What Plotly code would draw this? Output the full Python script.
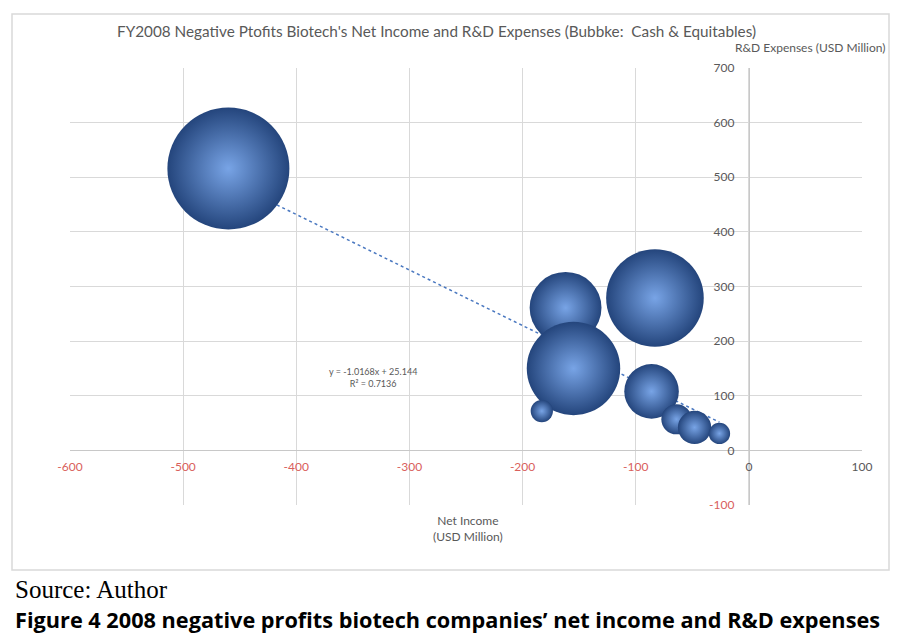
import plotly.graph_objects as go

# Data
net_income = [-460, -162, -83, -155, -86, -183, -64, -48, -26]      # USD million
rd_expenses = [516, 261, 279, 150, 108, 72, 57, 42, 31]             # USD million
cash = [1500, 520, 960, 880, 300, 50, 92, 112, 46]                  # bubble size (cash & equivalents)

trend_slope = -1.0168
trend_intercept = 25.144
trend_r2 = 0.7136

x_ticks = [-600, -500, -400, -300, -200, -100, 0, 100]
y_ticks = [-100, 0, 100, 200, 300, 400, 500, 600, 700]

RED = "#d9605c"
GRAY = "#595959"


def tick_text(v):
    c = RED if v < 0 else GRAY
    return f'<span style="color:{c}">{v}</span>'


fig = go.Figure()

# trendline
x0, x1 = min(net_income), max(net_income)
fig.add_trace(go.Scatter(
    x=[x0, x1],
    y=[trend_slope * x0 + trend_intercept, trend_slope * x1 + trend_intercept],
    mode="lines",
    line=dict(color="#4a78c0", width=1.5, dash="dot"),
    hoverinfo="skip", showlegend=False,
))

max_d = 122
fig.add_trace(go.Scatter(
    x=net_income, y=rd_expenses, mode="markers",
    marker=dict(
        size=cash, sizemode="area", sizeref=2.0 * max(cash) / (max_d ** 2),
        color="#24457c",
        gradient=dict(type="radial", color="#78a4e6"),
        line=dict(width=0), opacity=1,
    ),
    showlegend=False,
))

fig.add_annotation(
    x=-332, y=134, xref="x", yref="y",
    text=f"y = {trend_slope}x + {trend_intercept}<br>R² = {trend_r2}",
    showarrow=False, font=dict(size=9, color=GRAY, family="Lato"), align="center",
)

PW, PH = 792, 437  # plot area size in px
L, T = 62, 60      # plot area offset in figure px

# titles
fig.add_annotation(
    x=0.463, y=1.085, xref="paper", yref="paper",
    text="FY2008 Negative Ptofits Biotech's Net Income and R&D Expenses (Bubbke:  Cash & Equitables)",
    showarrow=False, font=dict(size=15.3, color=GRAY, family="Lato"), xanchor="center", yanchor="middle",
)
fig.add_annotation(
    x=1.031, y=1.048, xref="paper", yref="paper",
    text="R&D Expenses (USD Million)",
    showarrow=False, font=dict(size=12, color=GRAY, family="Lato"), xanchor="right", yanchor="middle",
)
fig.add_annotation(
    x=0.5025, y=-0.014, xref="paper", yref="paper",
    text="Net Income<br>(USD Million)",
    showarrow=False, font=dict(size=12, color=GRAY, family="Lato"), xanchor="center", yanchor="top",
)
# captions below chart
fig.add_annotation(
    x=-0.072, y=-0.1945, xref="paper", yref="paper",
    text="Source: Author",
    showarrow=False, font=dict(size=25, color="#000000", family="Liberation Serif"), xanchor="left", yanchor="middle",
)
fig.add_annotation(
    x=-0.072, y=-0.263, xref="paper", yref="paper",
    text="<b>Figure 4 2008 negative profits biotech companies’ net income and R&D expenses</b>",
    showarrow=False, font=dict(size=21.7, color="#000000", family="Open Sans"), xanchor="left", yanchor="middle",
)

# chart border
fig.add_shape(type="rect", xref="paper", yref="paper",
              x0=(12 - 70) / PW, x1=(889 - 70) / PW,
              y0=(505 - 570) / PH, y1=(505 - 14) / PH,
              line=dict(color="#d9d9d9", width=1.5), fillcolor="rgba(0,0,0,0)", layer="below")

fig.update_layout(
    width=897, height=631,
    margin=dict(l=L, r=897 - L - PW, t=T, b=631 - T - PH),
    paper_bgcolor="white", plot_bgcolor="white",
    font=dict(family="Lato", color=GRAY, size=12),
    xaxis=dict(
        range=[-600, 100], tickvals=x_ticks, ticktext=[tick_text(v) for v in x_ticks],
        showgrid=True, gridcolor="#d9d9d9", gridwidth=1, zeroline=False,
        showline=True, linecolor="#c8c8c8", linewidth=1,
        anchor="free", position=100 / 800, automargin=False,
        ticks="outside", ticklen=5, tickcolor="rgba(0,0,0,0)",
        tickfont=dict(size=12), fixedrange=True,
    ),
    yaxis=dict(
        range=[-100, 700], tickvals=y_ticks, ticktext=[tick_text(v) for v in y_ticks],
        showgrid=True, gridcolor="#d9d9d9", gridwidth=1, zeroline=False,
        showline=True, linecolor="#c8c8c8", linewidth=1,
        anchor="free", position=600 / 700, automargin=False,
        ticks="outside", ticklen=12, tickcolor="rgba(0,0,0,0)",
        tickfont=dict(size=12), fixedrange=True,
    ),
)

fig.write_html("out.html")
